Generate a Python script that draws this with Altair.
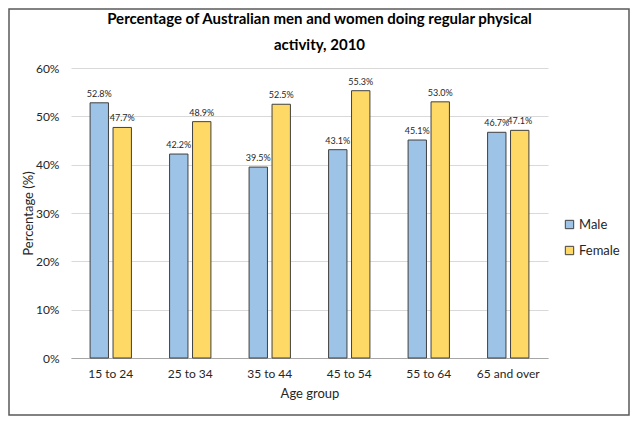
import altair as alt
import pandas as pd

age_groups = ["15 to 24", "25 to 34", "35 to 44", "45 to 54", "55 to 64", "65 and over"]
male = [52.8, 42.2, 39.5, 43.1, 45.1, 46.7]
female = [47.7, 48.9, 52.5, 55.3, 53.0, 47.1]
sexes = ["Male", "Female"]
colors = ["#9dc3e6", "#ffd966"]
y_ticks = [0, 10, 20, 30, 40, 50, 60]

rows = []
for i, g in enumerate(age_groups):
    rows.append({"Age group": g, "Sex": "Male", "Pct": male[i], "Label": f"{male[i]:.1f}%"})
    rows.append({"Age group": g, "Sex": "Female", "Pct": female[i], "Label": f"{female[i]:.1f}%"})
df = pd.DataFrame(rows)

FONT = "Lato"
W, H = 477, 290
PL, PT, PR, PB = 63, 60, 82, 58

x = alt.X("Age group:N", sort=age_groups, title="Age group",
          scale=alt.Scale(paddingInner=0.48, paddingOuter=0.24),
          axis=alt.Axis(labelAngle=0, labelFontSize=12, titleFontSize=13, labelPadding=10,
                        titlePadding=8, ticks=False, domainColor="#a6a6a6", labelColor="#262626",
                        titleColor="#262626", labelFont=FONT, titleFont=FONT, titleFontWeight="normal"))
y = alt.Y("Pct:Q", title="Percentage (%)",
          scale=alt.Scale(domain=[0, 60], nice=False),
          axis=alt.Axis(values=y_ticks, labelExpr="datum.value + '%'", domain=False, ticks=False,
                        gridColor="#d9d9d9", labelFontSize=12, titleFontSize=13, labelPadding=12,
                        titlePadding=0, labelColor="#262626", titleColor="#262626",
                        labelFont=FONT, titleFont=FONT, titleFontWeight="normal"))
xoff = alt.XOffset("Sex:N", sort=sexes, scale=alt.Scale(paddingInner=0.2))
color = alt.Color("Sex:N", sort=sexes, scale=alt.Scale(domain=sexes, range=colors),
                  legend=alt.Legend(title=None, orient="none", legendX=492, legendY=150,
                                    symbolType="square", symbolSize=70, symbolStrokeColor="#404040",
                                    symbolStrokeWidth=1, labelFontSize=13, labelFont=FONT,
                                    labelColor="#262626", rowPadding=12, labelOffset=3))

bars = alt.Chart(df).mark_bar(stroke="#404040", strokeWidth=1).encode(
    x=x, y=y, xOffset=xoff, color=color)

labels = alt.Chart(df).mark_text(dy=-9, fontSize=9, font=FONT, color="#262626").encode(
    x=x, y=y, xOffset=xoff, text="Label:N")

frame = alt.Chart(pd.DataFrame({"a": [0]})).mark_rect(
    fill=None, stroke="#595959", strokeWidth=1.5, clip=False).encode(
    x=alt.value(-PL + 1), x2=alt.value(W + PR - 1),
    y=alt.value(-PT + 1), y2=alt.value(H + PB - 1))

chart = alt.layer(bars, labels, frame).properties(
    width=W, height=H,
    title=alt.Title(["Percentage of Australian men and women doing regular physical", "activity, 2010"],
                    fontSize=15, font=FONT, fontWeight="bold", color="#000000",
                    anchor="middle", lineHeight=26, offset=-45, dx=10),
    autosize=alt.AutoSizeParams(type="none"),
    padding={"left": PL, "top": PT, "right": PR, "bottom": PB},
).configure_view(stroke=None)

chart.save("out.html", embed_options={"renderer": "svg", "actions": False})
